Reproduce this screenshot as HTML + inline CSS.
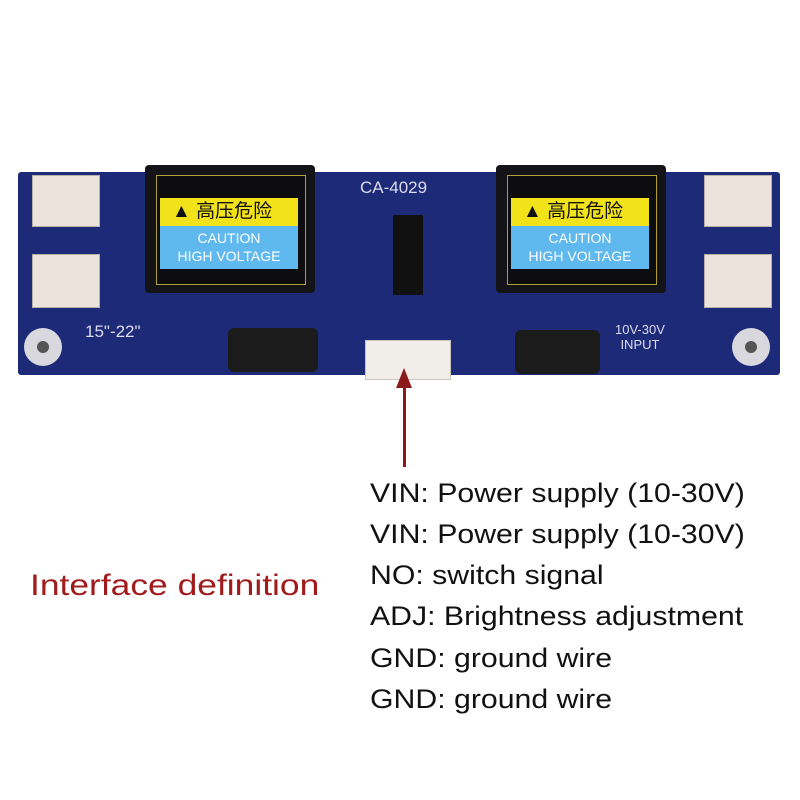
<!DOCTYPE html>
<html><head><style>
body{margin:0;width:800px;height:800px;background:#fff;position:relative;overflow:hidden;font-family:"Liberation Sans","Noto Sans CJK SC",sans-serif}
.a{position:absolute}
.board{left:18px;top:172px;width:762px;height:203px;background:#1d2a78;border-radius:3px}
.tr{background:#141418;border-radius:4px}
.lab{background:#f2e21a}
.blue{background:#5fb8ee;color:#fff;text-align:center;font-size:14px;line-height:18px}
.conn{background:#ece4dc;border:1px solid #b8b0a8}
.cap{background:#1b1b1b;border-radius:6px}
.t{font-size:27px;color:#111;left:370px;transform:scaleX(1.12);transform-origin:0 0;white-space:nowrap}
.w{color:#dde;font-size:13px}
</style></head><body>
<div class="a board"></div>
<div class="a tr" style="left:145px;top:165px;width:170px;height:128px"></div>
<div class="a" style="left:156px;top:175px;width:148px;height:108px;border:1px solid #b0a030;background:#0d0d0f"></div>
<div class="a lab" style="left:160px;top:198px;width:138px;height:28px;font-size:19px;line-height:28px;color:#111"><span style="margin-left:12px">▲</span> 高压危险</div>
<div class="a blue" style="left:160px;top:226px;width:138px;height:40px;padding-top:3px">CAUTION<br>HIGH VOLTAGE</div>
<div class="a tr" style="left:496px;top:165px;width:170px;height:128px"></div>
<div class="a" style="left:507px;top:175px;width:148px;height:108px;border:1px solid #b0a030;background:#0d0d0f"></div>
<div class="a lab" style="left:511px;top:198px;width:138px;height:28px;font-size:19px;line-height:28px;color:#111"><span style="margin-left:12px">▲</span> 高压危险</div>
<div class="a blue" style="left:511px;top:226px;width:138px;height:40px;padding-top:3px">CAUTION<br>HIGH VOLTAGE</div>
<div class="a conn" style="left:32px;top:175px;width:66px;height:50px"></div>
<div class="a conn" style="left:32px;top:254px;width:66px;height:52px"></div>
<div class="a conn" style="left:704px;top:175px;width:66px;height:50px"></div>
<div class="a conn" style="left:704px;top:254px;width:66px;height:52px"></div>
<div class="a" style="left:393px;top:215px;width:30px;height:80px;background:#111"></div>
<div class="a w" style="left:360px;top:178px;font-size:17px">CA-4029</div>
<div class="a w" style="left:85px;top:322px;font-size:17px">15"-22"</div>
<div class="a w" style="left:615px;top:322px;font-size:13px;line-height:15px;text-align:center">10V-30V<br>INPUT</div>
<div class="a cap" style="left:228px;top:328px;width:90px;height:44px"></div>
<div class="a cap" style="left:515px;top:330px;width:85px;height:44px"></div>
<div class="a" style="left:24px;top:328px;width:38px;height:38px;border-radius:50%;background:#d8d8de"></div>
<div class="a" style="left:37px;top:341px;width:12px;height:12px;border-radius:50%;background:#555"></div>
<div class="a" style="left:732px;top:328px;width:38px;height:38px;border-radius:50%;background:#d8d8de"></div>
<div class="a" style="left:745px;top:341px;width:12px;height:12px;border-radius:50%;background:#555"></div>
<div class="a" style="left:365px;top:340px;width:84px;height:38px;background:#f1eeea;border:1px solid #c9c4bd"></div>
<div class="a" style="left:403px;top:385px;width:3px;height:82px;background:#8b1a1a"></div>
<div class="a" style="left:396px;top:368px;width:0;height:0;border-left:8px solid transparent;border-right:8px solid transparent;border-bottom:20px solid #8b1a1a"></div>
<div class="a t" style="top:478px">VIN: Power supply (10-30V)</div>
<div class="a t" style="top:519px">VIN: Power supply (10-30V)</div>
<div class="a t" style="top:560px">NO: switch signal</div>
<div class="a t" style="top:601px">ADJ: Brightness adjustment</div>
<div class="a t" style="top:643px">GND: ground wire</div>
<div class="a t" style="top:684px">GND: ground wire</div>
<div class="a" style="left:30px;top:569px;font-size:30px;color:#a01c1c;transform:scaleX(1.18);transform-origin:0 0;white-space:nowrap">Interface definition</div>
</body></html>
